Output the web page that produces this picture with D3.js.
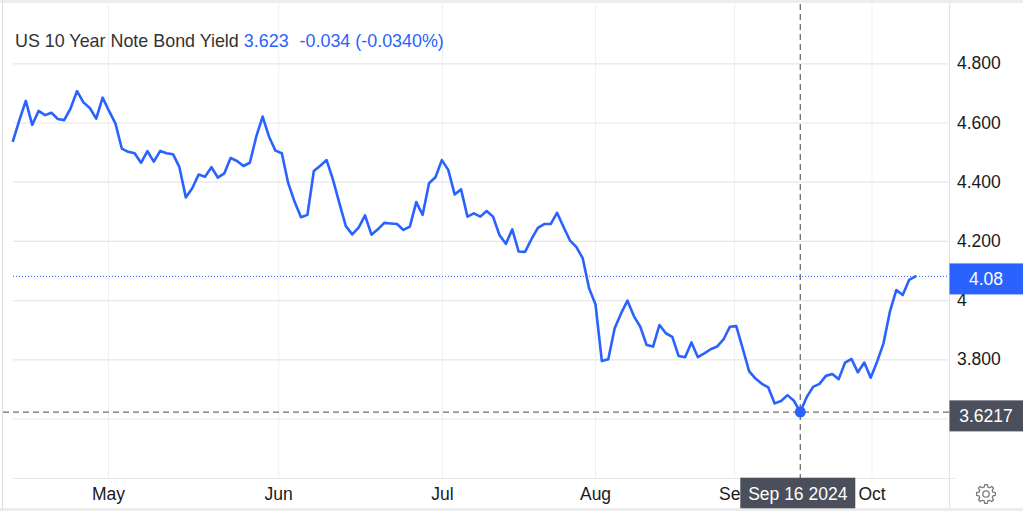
<!DOCTYPE html>
<html>
<head>
<meta charset="utf-8">
<script src="https://cdn.jsdelivr.net/npm/d3@7"></script>
<style>
  html, body { margin: 0; padding: 0; background: #fff; }
  svg { display: block; font-family: "Liberation Sans", Arial, Helvetica, sans-serif; }
</style>
</head>
<body>
<svg id="chart" width="1023" height="511"></svg>
<script>
// ---- data ----
const titleText = "US 10 Year Note Bond Yield";
const lastQuote = "3.623";
const changeText = "-0.034 (-0.0340%)";

const yields = [
  4.538, 4.608, 4.673, 4.592, 4.639, 4.625, 4.633, 4.612, 4.608, 4.648,
  4.706, 4.668, 4.649, 4.613, 4.684, 4.639, 4.597, 4.512, 4.501, 4.496,
  4.464, 4.503, 4.468, 4.504, 4.496, 4.493, 4.449, 4.347, 4.378, 4.424,
  4.417, 4.449, 4.414, 4.428, 4.480, 4.470, 4.453, 4.464, 4.552, 4.620,
  4.552, 4.505, 4.496, 4.395, 4.332, 4.280, 4.288, 4.436, 4.454, 4.473,
  4.406, 4.327, 4.250, 4.222, 4.245, 4.286, 4.221, 4.239, 4.261, 4.259,
  4.257, 4.237, 4.248, 4.331, 4.288, 4.395, 4.415, 4.473, 4.440, 4.357,
  4.374, 4.282, 4.293, 4.282, 4.301, 4.282, 4.220, 4.190, 4.239, 4.164,
  4.163, 4.206, 4.244, 4.257, 4.257, 4.295, 4.248, 4.202, 4.180, 4.142,
  4.040, 3.986, 3.794, 3.800, 3.905, 3.955, 3.998, 3.946, 3.910, 3.848,
  3.843, 3.916, 3.888, 3.876, 3.811, 3.807, 3.857, 3.807, 3.820, 3.834,
  3.843, 3.867, 3.910, 3.912, 3.837, 3.760, 3.735, 3.717, 3.705, 3.651,
  3.659, 3.679, 3.660, 3.6217, 3.672, 3.707, 3.717, 3.744, 3.750, 3.733,
  3.789, 3.801, 3.756, 3.789, 3.738, 3.792, 3.854, 3.961, 4.034, 4.017,
  4.068, 4.080
];

const monthLabels = ["May", "Jun", "Jul", "Aug", "Sep", "Oct"];
const monthPositions = [14.85, 41.43, 67.02, 90.93, 112.66, 134.13]; // in trading-day index units

const yGridValues = [3.6, 3.8, 4.0, 4.2, 4.4, 4.6, 4.8];
const yTickValues = [3.8, 4.0, 4.2, 4.4, 4.6, 4.8];
const yTickLabels = ["3.800", "4", "4.200", "4.400", "4.600", "4.800"];

const hoverIndex = 123;
const hoverDateLabel = "Sep 16 2024";
const hoverValueLabel = "3.6217";
const lastValueLabel = "4.08";

// ---- layout ----
const W = 1023, H = 511;
const plotLeft = 13, plotRight = 949, plotTop = 4, plotBottom = 478;
const blue = "#2962ff";
const dark = "#4a4f5b";

const svg = d3.select("#chart");

const x = d3.scaleLinear().domain([0, yields.length - 1]).range([13, 915.5]);
const y = d3.scaleLinear().domain([3.8, 4.8]).range([359.3, 63.3]);

// frame
svg.append("rect").attr("x", 0).attr("y", 0).attr("width", W).attr("height", 3).attr("fill", "#ededed");
svg.append("rect").attr("x", 0).attr("y", 508).attr("width", W).attr("height", 3).attr("fill", "#ececec");
svg.append("line").attr("x1", 2.5).attr("x2", 2.5).attr("y1", 0).attr("y2", H)
  .attr("stroke", "#dedede").attr("stroke-width", 1);

// vertical month gridlines
const xGrid = svg.append("g").attr("transform", `translate(0,${plotBottom})`)
  .call(d3.axisBottom(x).tickValues(monthPositions).tickSize(-(plotBottom - plotTop)).tickFormat(""));
xGrid.select(".domain").remove();
xGrid.selectAll(".tick line").attr("stroke", "#edf1f5").attr("stroke-width", 1);

// horizontal gridlines
const yGrid = svg.append("g").attr("transform", `translate(${plotLeft},0)`)
  .call(d3.axisRight(y).tickValues(yGridValues).tickSize(plotRight - plotLeft - 1).tickFormat(""));
yGrid.select(".domain").remove();
yGrid.selectAll(".tick line").attr("stroke", "#e6e6e6").attr("stroke-width", 1.2);

// axis lines
svg.append("line").attr("x1", plotRight + 0.5).attr("x2", plotRight + 0.5).attr("y1", 3).attr("y2", 508)
  .attr("stroke", "#e3e3e3").attr("stroke-width", 1.2);
svg.append("line").attr("x1", plotLeft).attr("x2", 955).attr("y1", plotBottom + 0.5).attr("y2", plotBottom + 0.5)
  .attr("stroke", "#e6e6e6").attr("stroke-width", 1.2);

// y tick labels
const yAxis = svg.append("g").attr("transform", `translate(${plotRight},0)`)
  .call(d3.axisRight(y).tickValues(yTickValues).tickSize(0).tickPadding(8)
    .tickFormat((d, i) => yTickLabels[i]));
yAxis.select(".domain").remove();
yAxis.selectAll("text").attr("font-size", 17.5).attr("fill", "#1a1a1a")
  .attr("font-family", "Liberation Sans, Arial, sans-serif");

// month labels
const xAxis = svg.append("g").attr("transform", `translate(0,${plotBottom})`)
  .call(d3.axisBottom(x).tickValues(monthPositions).tickSize(0).tickPadding(10)
    .tickFormat((d, i) => monthLabels[i]));
xAxis.select(".domain").remove();
xAxis.selectAll("text").attr("font-size", 17.5).attr("fill", "#1a1a1a")
  .attr("font-family", "Liberation Sans, Arial, sans-serif");

// last value dotted line
const lastVal = yields[yields.length - 1];
svg.append("line").attr("x1", plotLeft).attr("x2", plotRight).attr("y1", y(lastVal)).attr("y2", y(lastVal))
  .attr("stroke", blue).attr("stroke-width", 1).attr("stroke-dasharray", "1,2");

// line
const line = d3.line().x((d, i) => x(i)).y(d => y(d));
svg.append("path").datum(yields).attr("d", line)
  .attr("fill", "none").attr("stroke", blue).attr("stroke-width", 2.6)
  .attr("stroke-linejoin", "round").attr("stroke-linecap", "round");

// crosshair
const hx = x(hoverIndex), hy = y(yields[hoverIndex]);
svg.append("line").attr("x1", hx).attr("x2", hx).attr("y1", plotTop).attr("y2", plotBottom)
  .attr("stroke", "#6e6e6e").attr("stroke-width", 1.3).attr("stroke-dasharray", "6,4");
svg.append("line").attr("x1", 3).attr("x2", plotRight).attr("y1", hy).attr("y2", hy)
  .attr("stroke", "#6e6e6e").attr("stroke-width", 1.3).attr("stroke-dasharray", "6,4");
svg.append("circle").attr("cx", hx).attr("cy", hy).attr("r", 5.5).attr("fill", blue);

// last value label box
const lastY = y(lastVal);
svg.append("rect").attr("x", plotRight + 0.5).attr("y", lastY - 13).attr("width", W - plotRight).attr("height", 31)
  .attr("fill", blue);
svg.append("text").attr("x", 986).attr("y", lastY + 2.5).attr("dy", "0.35em").attr("text-anchor", "middle")
  .attr("font-size", 17.5).attr("fill", "#fff").text(lastValueLabel);

// hover value label box
svg.append("rect").attr("x", plotRight + 0.5).attr("y", hy - 11.7).attr("width", W - plotRight).attr("height", 31)
  .attr("fill", dark);
svg.append("text").attr("x", 986).attr("y", hy + 4).attr("dy", "0.35em").attr("text-anchor", "middle")
  .attr("font-size", 17.5).attr("fill", "#fff").text(hoverValueLabel);

// hover date label box
svg.append("rect").attr("x", hx - 60).attr("y", plotBottom - 0.3).attr("width", 115).attr("height", 30.6)
  .attr("fill", dark);
svg.append("text").attr("x", hx - 2.5).attr("y", plotBottom + 15.5).attr("dy", "0.35em").attr("text-anchor", "middle")
  .attr("font-size", 17.5).attr("fill", "#fff").text(hoverDateLabel);

// title
const title = svg.append("text").attr("x", 15).attr("y", 46.5).attr("font-size", 17.9);
title.append("tspan").attr("fill", "#333").text(titleText);
title.append("tspan").attr("fill", blue).attr("dx", 5).text(lastQuote);
title.append("tspan").attr("fill", blue).attr("dx", 11).text(changeText);

// gear icon
const gx = 986, gy = 494;
const teeth = 8, rOut = 9.5, rIn = 7.2;
const step = 2 * Math.PI / teeth;
const pts = [];
for (let i = 0; i < teeth; i++) {
  const a0 = i * step;
  pts.push([gx + rOut * Math.cos(a0 - step * 0.17), gy + rOut * Math.sin(a0 - step * 0.17)]);
  pts.push([gx + rOut * Math.cos(a0 + step * 0.17), gy + rOut * Math.sin(a0 + step * 0.17)]);
  pts.push([gx + rIn * Math.cos(a0 + step * 0.33), gy + rIn * Math.sin(a0 + step * 0.33)]);
  pts.push([gx + rIn * Math.cos(a0 + step * 0.67), gy + rIn * Math.sin(a0 + step * 0.67)]);
}
svg.append("path").attr("d", d3.line().curve(d3.curveLinearClosed)(pts))
  .attr("fill", "none").attr("stroke", "#7a7a7a").attr("stroke-width", 1.3).attr("stroke-linejoin", "round");
svg.append("circle").attr("cx", gx).attr("cy", gy).attr("r", 3.2)
  .attr("fill", "none").attr("stroke", "#7a7a7a").attr("stroke-width", 1.3);
</script>
</body>
</html>
